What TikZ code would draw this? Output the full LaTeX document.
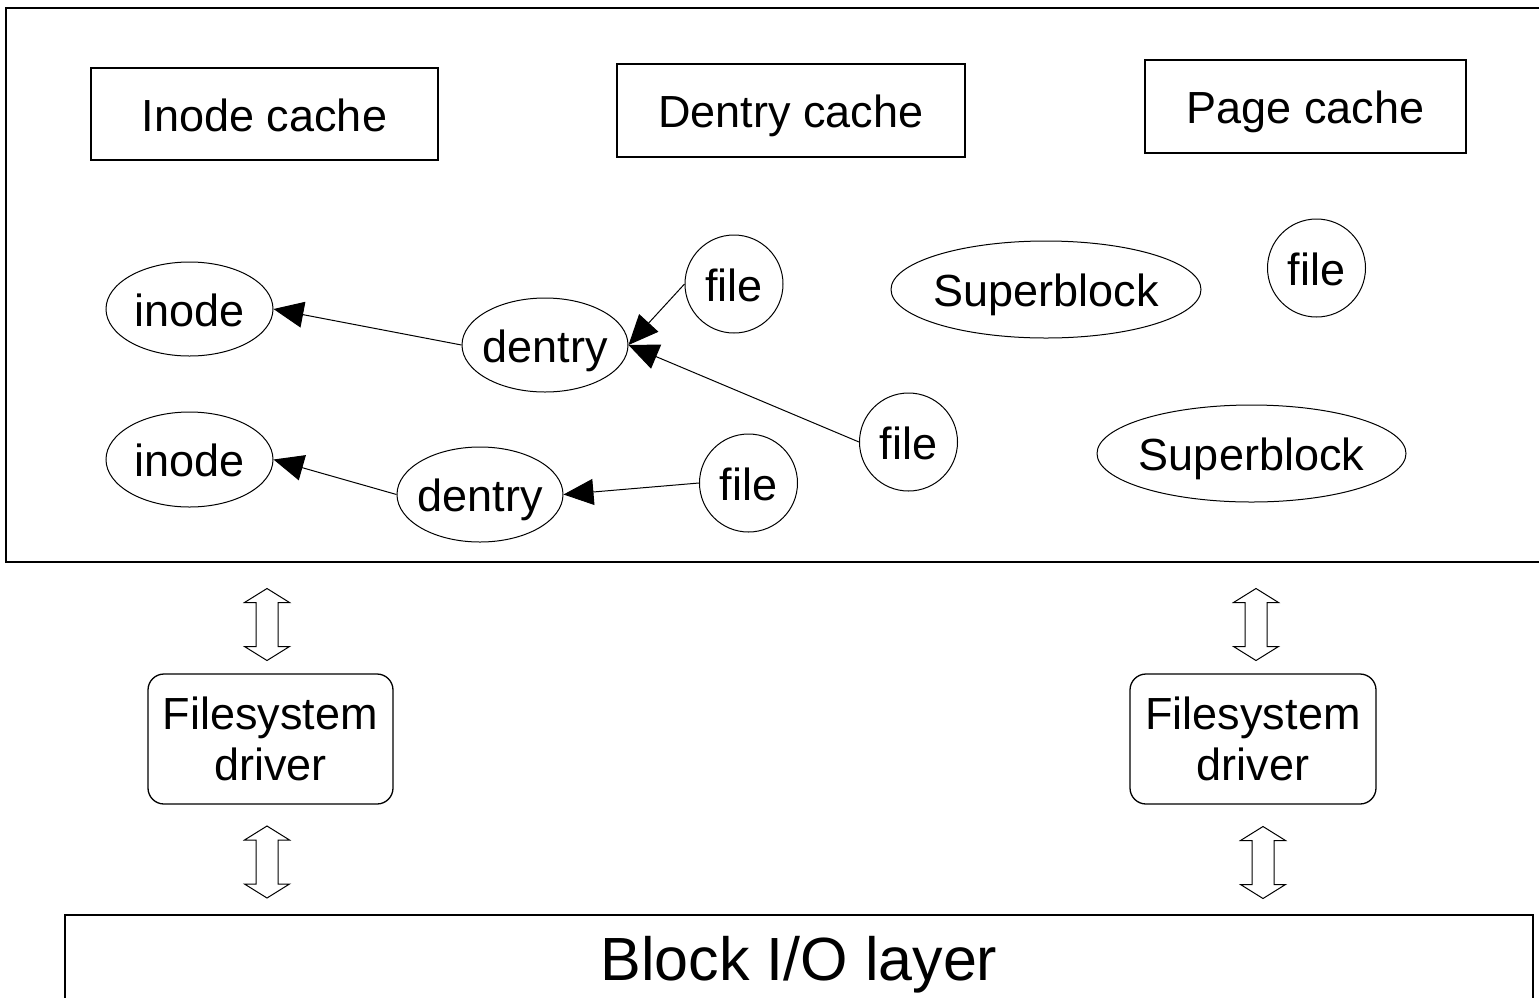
\documentclass[tikz,border=0pt]{standalone}
\usepackage{fontspec}
\setmainfont{Liberation Sans}
\usetikzlibrary{shapes.geometric,arrows.meta}
\newcommand{\nw}[1]{\makebox[0pt][c]{#1}}
\tikzset{
  lbl/.style={font=\fontsize{45}{51}\selectfont, inner sep=0pt, text height=34pt, text depth=0pt},
  cachebox/.style={lbl, draw, line width=1.3pt},
  fsbox/.style={lbl, draw, line width=1.3pt, rounded corners=16pt, align=center, minimum width=245pt, minimum height=130pt, text height=, text depth=},
  ell/.style={lbl, ellipse, draw, line width=1pt},
  filec/.style={lbl, circle, draw, line width=1pt, minimum size=98pt},
  arr/.style={-{Triangle[length=30pt,width=26pt]}, line width=1pt},
  dblarrow/.pic={\draw[line width=1pt] (0,-36) -- (22.5,-22) -- (11,-22) -- (11,22) -- (22.5,22) -- (0,36) -- (-22.5,22) -- (-11,22) -- (-11,-22) -- (-22.5,-22) -- cycle;}
}
\begin{document}
\begin{tikzpicture}[x=1pt,y=-1pt]
\useasboundingbox (0,0) rectangle (1539,997);
\clip (0,0) rectangle (1539,997);
\fill[white] (0,0) rectangle (1539,997);
% outer cache area
\draw[line width=1.3pt] (6,8) rectangle (1570,562);
% caches
\node[cachebox, minimum width=347pt, minimum height=92pt] (ic) at (264.5,114) {Inode cache};
\node[cachebox, minimum width=348pt, minimum height=93pt] (dc) at (791,110.5) {Dentry cache};
\node[cachebox, minimum width=321pt, minimum height=93pt] (pc) at (1305.5,106.5) {Page cache};
% objects
\node[ell, minimum width=167pt, minimum height=94pt] (i1) at (189.5,309) {\nw{inode}};
\node[ell, minimum width=167pt, minimum height=95pt] (i2) at (189.5,459.5) {\nw{inode}};
\node[ell, minimum width=166pt, minimum height=94pt] (d1) at (545,345) {\nw{dentry}};
\node[ell, minimum width=166pt, minimum height=95pt] (d2) at (480,494.5) {\nw{dentry}};
\node[filec] (f1) at (734,284) {\nw{file}};
\node[filec] (f2) at (908.5,442) {\nw{file}};
\node[filec] (f3) at (748.5,483) {\nw{file}};
\node[filec] (f4) at (1316.5,268) {\nw{file}};
\node[ell, minimum width=310pt, minimum height=97pt] (s1) at (1046,289.5) {\nw{Superblock}};
\node[ell, minimum width=309pt, minimum height=97pt] (s2) at (1251.5,453.5) {\nw{Superblock}};
% links
\draw[arr] (d1.west) -- (i1.east);
\draw[arr] (d2.west) -- (i2.east);
\draw[arr] (f1.west) -- (d1.east);
\draw[arr] (f2.west) -- (d1.east);
\draw[arr] (f3.west) -- (d2.east);
% drivers
\node[fsbox] (fs1) at (270.5,739) {Filesystem\\driver};
\node[fsbox, minimum width=246pt] (fs2) at (1253,739) {Filesystem\\driver};
% block layer
\node[lbl, draw, line width=1.3pt, font=\fontsize{61}{70}\selectfont, text height=44pt, text depth=6pt, minimum width=1468pt, minimum height=92pt] (bio) at (799,961) {Block I/O layer};
% double arrows
\pic at (267,624.5) {dblarrow};
\pic at (267,862) {dblarrow};
\pic at (1256,624.5) {dblarrow};
\pic at (1263,862.5) {dblarrow};
\end{tikzpicture}
\end{document}
